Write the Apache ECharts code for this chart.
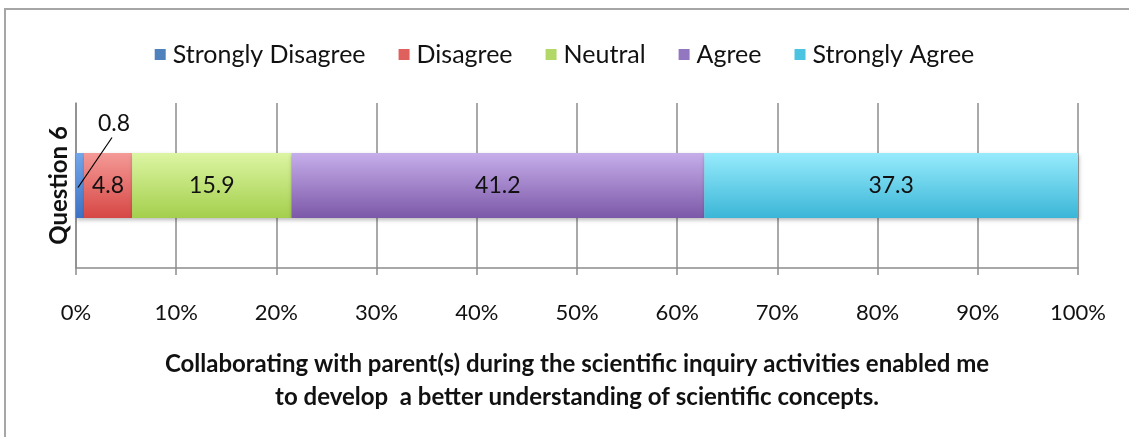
<!DOCTYPE html>
<html>
<head>
<meta charset="utf-8">
<script src="https://cdn.jsdelivr.net/npm/echarts@6/dist/echarts.min.js"></script>
<style>
  html, body { margin: 0; padding: 0; background: #ffffff; }
  #chart { width: 1129px; height: 437px; }
</style>
</head>
<body>
<div id="chart"></div>
<script>
// Survey responses (percent of students) for one statement
const categories = ['Question 6'];
const seriesNames = ['Strongly Disagree', 'Disagree', 'Neutral', 'Agree', 'Strongly Agree'];
const stronglyDisagree = [0.8];
const disagree = [4.8];
const neutral = [15.9];
const agree = [41.2];
const stronglyAgree = [37.3];
const tickValues = [0, 10, 20, 30, 40, 50, 60, 70, 80, 90, 100];

const FONT = 'Lato, "Open Sans", sans-serif';

// Office-style vertical gradients: lighter top, deeper bottom
function grad(top, bottom) {
  return new echarts.graphic.LinearGradient(0, 0, 0, 1, [
    { offset: 0, color: top },
    { offset: 1, color: bottom }
  ]);
}
const fills = [
  grad('#74a6ea', '#3d72c4'),
  grad('#f49a97', '#d64744'),
  grad('#dcf5a3', '#a4cf4c'),
  grad('#c6aeea', '#7c58a8'),
  grad('#97ebfc', '#3bb6d7')
];
const legendColors = ['#4f81bd', '#e0605d', '#b2d968', '#9277c0', '#4cc3e0'];
const values = [stronglyDisagree, disagree, neutral, agree, stronglyAgree];

const series = seriesNames.map((name, i) => {
  const label = {
    show: true,
    position: 'inside',
    color: '#111',
    fontSize: 23,
    fontFamily: FONT,
    formatter: p => p.value.toFixed(1)
  };
  if (i === 0) {
    // narrow segment: label sits above with a leader line
    label.offset = [34, -62];
  }
  return {
    name,
    type: 'bar',
    stack: 'total',
    barWidth: 65,
    data: values[i],
    itemStyle: {
      color: fills[i],
      shadowColor: 'rgba(0,0,0,0.28)',
      shadowBlur: 4,
      shadowOffsetX: 1,
      shadowOffsetY: 2
    },
    label,
    emphasis: { disabled: true }
  };
});

const chart = echarts.init(document.getElementById('chart'), null, { renderer: 'canvas' });
chart.setOption({
  animation: false,
  backgroundColor: '#ffffff',
  color: legendColors,
  legend: {
    top: 37,
    left: 'center',
    itemWidth: 11,
    itemHeight: 11,
    itemGap: 33,
    icon: 'rect',
    textStyle: { fontSize: 25, fontFamily: FONT, color: '#111', padding: [0, 0, 0, 2] },
    data: seriesNames.map((n, i) => ({ name: n, itemStyle: { color: legendColors[i] } }))
  },
  grid: { left: 76, right: 51, top: 103, bottom: 169 },
  xAxis: {
    type: 'value',
    min: 0,
    max: 100,
    interval: 10,
    axisLine: { show: true, lineStyle: { color: '#8c8c8c', width: 1.5 } },
    axisTick: { show: true, length: 7, lineStyle: { color: '#8c8c8c', width: 1.5 } },
    splitLine: { show: true, lineStyle: { color: '#8c8c8c', width: 1.5 } },
    axisLabel: {
      margin: 34,
      fontSize: 22,
      fontFamily: FONT,
      color: '#111',
      formatter: v => tickValues.includes(v) ? v + '%' : ''
    },
    name: 'Collaborating with parent(s) during the scientific inquiry activities enabled me\nto develop  a better understanding of scientific concepts.',
    nameLocation: 'middle',
    nameGap: 80,
    nameTextStyle: {
      fontSize: 24,
      fontWeight: 'bold',
      fontFamily: FONT,
      color: '#111',
      lineHeight: 33
    }
  },
  yAxis: {
    type: 'category',
    data: categories,
    axisLine: { show: true, lineStyle: { color: '#8c8c8c', width: 1.5 } },
    axisTick: { show: false },
    axisLabel: {
      rotate: 90,
      margin: 5,
      fontSize: 24,
      fontWeight: 'bold',
      fontFamily: FONT,
      color: '#111'
    }
  },
  series
});

// Frame and the leader line from the narrow first segment up to its label
function drawExtras() {
  const v = stronglyDisagree[0];
  const start = chart.convertToPixel({ gridIndex: 0 }, [v / 2, categories[0]]);
  const end = [start[0] + 32, start[1] - 48];
  chart.setOption({
    graphic: [
      {
        type: 'rect',
        shape: { x: 5, y: 9, width: 1200, height: 500 },
        style: { fill: 'none', stroke: '#a6a6a6', lineWidth: 2 },
        silent: true,
        z: -1
      },
      {
        type: 'line',
        shape: { x1: start[0] - 2, y1: start[1] + 2, x2: end[0], y2: end[1] },
        style: { stroke: '#000', lineWidth: 1.2 },
        silent: true,
        z: 100
      }
    ]
  });
}
drawExtras();
</script>
</body>
</html>
